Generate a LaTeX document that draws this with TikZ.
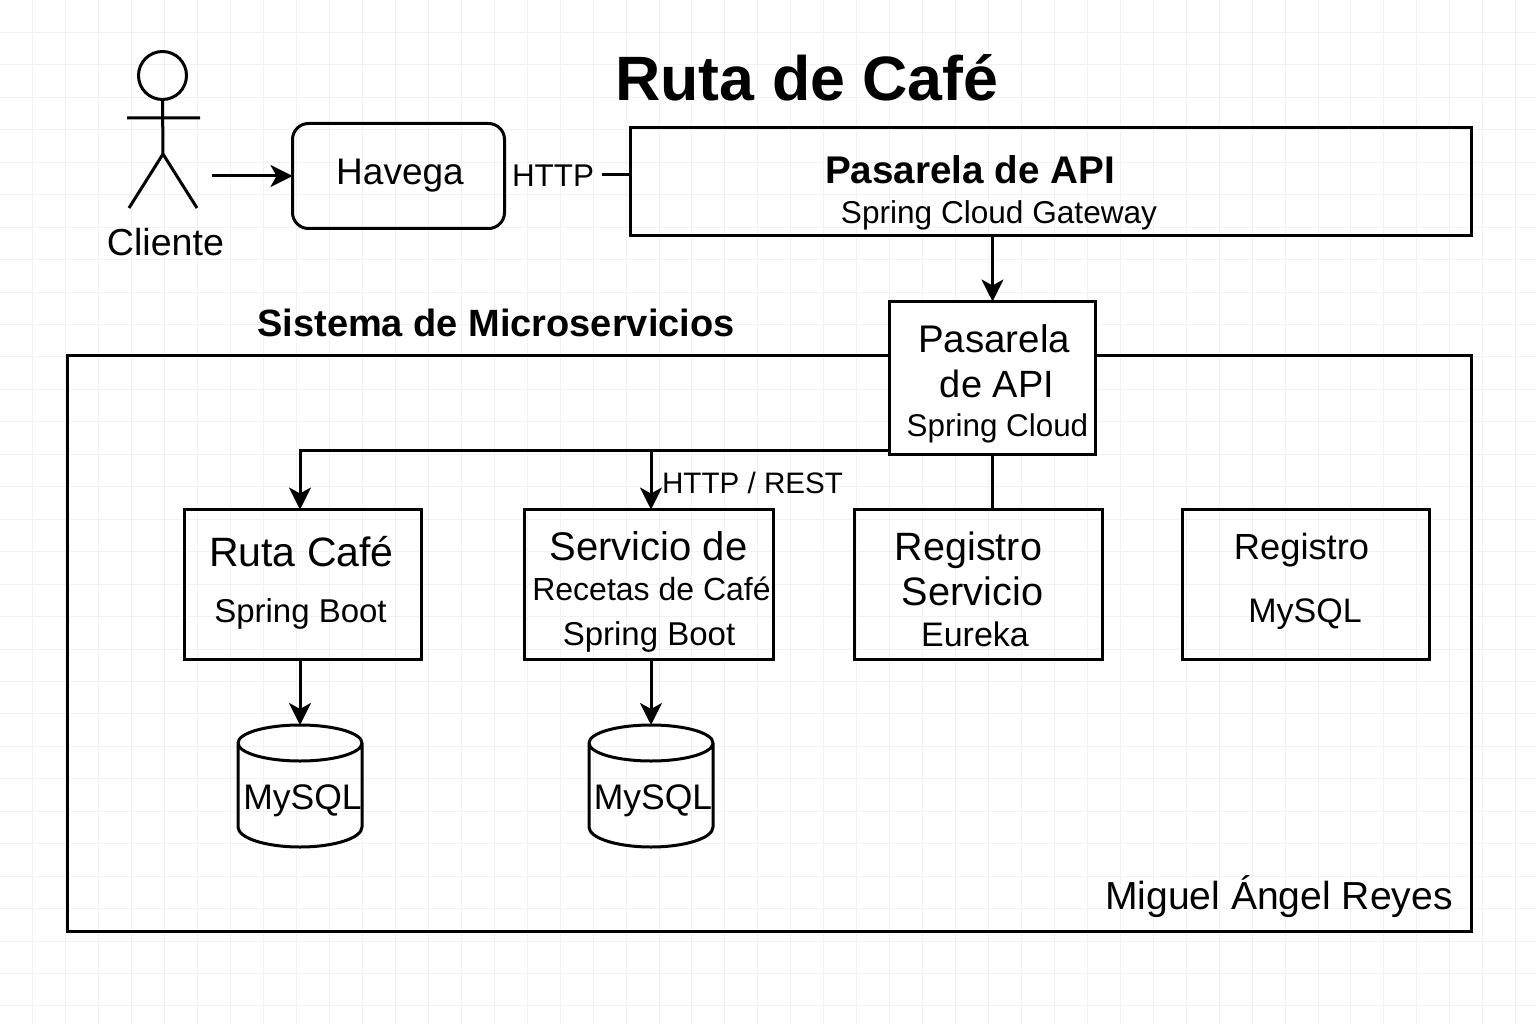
\documentclass[tikz,border=0pt]{standalone}
\usepackage{fontspec}
\setmainfont{Liberation Sans}
\usetikzlibrary{arrows.meta}
\newcommand{\fs}[1]{\fontsize{#1pt}{#1pt}\selectfont}
\tikzset{
  boxnode/.style={draw,line width=3pt,inner sep=0pt,outer sep=0pt},
  dbnode/.style={inner sep=0pt,outer sep=0pt,minimum width=124pt,minimum height=122pt},
  txt/.style={anchor=base,inner sep=0pt,font=\fs{#1}},
  btxt/.style={anchor=base,inner sep=0pt,font=\fs{#1}\bfseries},
  arr/.style={line width=3pt,-{Stealth[length=22pt,width=22pt,inset=6pt]}},
  wire/.style={line width=3pt}
}
\begin{document}
\begin{tikzpicture}[x=1pt,y=-1pt]
  \useasboundingbox (0,0) rectangle (1536,1024);
  \fill[white] (0,0) rectangle (1536,1024);
  \foreach \i in {1,...,46} \draw[line width=1pt,black!5] (\i*32.95,0) -- (\i*32.95,1024);
  \foreach \j in {1,...,31} \draw[line width=1pt,black!5] (0,\j*32.45) -- (1536,\j*32.45);

  \node[btxt=62.7] (title) at (807,101) {Ruta de Café};

  \node[circle,draw,line width=3pt,minimum size=48pt,inner sep=0pt,outer sep=0pt] (head) at (162.5,75.5) {};
  \path (127,118) coordinate (armL) (200,118) coordinate (armR) (163,154) coordinate (hip)
    (129,208) coordinate (legL) (197,208) coordinate (legR) (212,176) coordinate (clientout)
    (602,175) coordinate (httpout);
  \draw[wire] (head.south) -- (hip) (armL) -- (armR) (legL) -- (hip) -- (legR);
  \node[txt=37.6] (cliente) at (165.5,256) {Cliente};

  \node[boxnode,rounded corners=16pt,minimum width=212pt,minimum height=105pt,font=\fs{37}] (havega) at (398.5,176) {\hspace{3pt}Havega};
  \node[txt=31.4] (http) at (553,187) {HTTP};
  \node[boxnode,minimum width=841pt,minimum height=108pt] (gateway) at (1051,181.5) {};
  \node[btxt=38.6] (gatewayname) at (970,184) {Pasarela de API};
  \node[txt=31.6] (gatewaytech) at (999,223.5) {Spring Cloud Gateway};

  \node[btxt=38] (sistema) at (496,336) {Sistema de Microservicios};
  \node[boxnode,minimum width=1404pt,minimum height=576pt] (frame) at (769.5,643.5) {};
  \node[boxnode,fill=white,minimum width=206pt,minimum height=153pt] (pasarela) at (992.5,378) {};
  \node[txt=38.5] (pasarela1) at (994,352) {Pasarela};
  \node[txt=38] (pasarela2) at (997,397) {de API};
  \node[txt=31.4] (pasarela3) at (997.5,436) {Spring Cloud};

  \node[boxnode,minimum width=237pt,minimum height=150pt] (rutacafe) at (303,584.5) {};
  \node[txt=41] (rutacafe1) at (301.5,566) {Ruta Café};
  \node[txt=33] (rutacafe2) at (300.5,622) {Spring Boot};

  \node[boxnode,minimum width=249pt,minimum height=150pt] (servicio) at (649,584.5) {};
  \node[txt=40] (servicio1) at (648.5,560) {Servicio de};
  \node[txt=32] (servicio2) at (651.5,600.5) {Recetas de Café};
  \node[txt=33] (servicio3) at (649,645) {Spring Boot};

  \node[boxnode,minimum width=248pt,minimum height=150pt] (eureka) at (978.5,584.5) {};
  \node[txt=39.5] (eureka1) at (968.5,560) {Registro};
  \node[txt=39.7] (eureka2) at (972.5,605) {Servicio};
  \node[txt=34] (eureka3) at (975,646) {Eureka};

  \node[boxnode,minimum width=247pt,minimum height=150pt] (registro) at (1306,584.5) {};
  \node[txt=36.3] (registro1) at (1301.5,559) {Registro};
  \node[txt=34] (registro2) at (1305,622) {MySQL};

  \node[dbnode] (dbruta) at (300,786) {};
  \node[dbnode] (dbrecetas) at (651,786) {};
  \foreach \db in {dbruta,dbrecetas} {
    \draw[wire,line join=round] (\db.north west) ++(0,18) arc[start angle=180,end angle=0,x radius=62pt,y radius=18pt]
      arc[start angle=0,end angle=-180,x radius=62pt,y radius=18pt]
      -- ([yshift=20pt]\db.south west) arc[start angle=180,end angle=360,x radius=62pt,y radius=20pt]
      -- ([yshift=-18pt]\db.north east);
  }
  \node[txt=35.5] (dbruta1) at (302.5,809) {MySQL};
  \node[txt=35.5] (dbrecetas1) at (653,809) {MySQL};

  \node[txt=39.1] (firma) at (1279,909.5) {Miguel Ángel Reyes};

  \draw[arr] (clientout) -- (havega.west);
  \draw[wire] (httpout) -- (gateway.west |- httpout);
  \draw[arr] (gateway.south -| pasarela.north) -- (pasarela.north);
  \draw[arr] ([yshift=4pt]pasarela.south west) -| ([xshift=-3pt]rutacafe.north);
  \draw[arr] ([yshift=4pt]pasarela.south west) -| ([xshift=2pt]servicio.north);
  \draw[wire] (pasarela.south) -- (pasarela.south |- eureka.north);
  \draw[arr] ([xshift=-3pt]rutacafe.south) -- (dbruta.north);
  \draw[arr] ([xshift=2pt]servicio.south) -- (dbrecetas.north);
  \node[txt=29.6] (rest) at (752.5,493) {HTTP / REST};
\end{tikzpicture}
\end{document}
